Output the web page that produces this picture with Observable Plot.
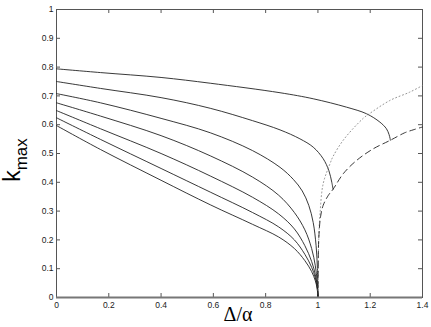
<!DOCTYPE html>
<html>
<head>
<meta charset="utf-8">
<script src="https://cdn.jsdelivr.net/npm/d3@7"></script>
<script src="https://cdn.jsdelivr.net/npm/@observablehq/plot@0.6"></script>
<style>
  html, body { margin: 0; padding: 0; background: #fff; }
  #chart { width: 431px; height: 327px; }
</style>
</head>
<body>
<div id="chart"></div>
<script>
// Tick values
const xTicks = [0, 0.2, 0.4, 0.6, 0.8, 1, 1.2, 1.4];
const yTicks = [0, 0.1, 0.2, 0.3, 0.4, 0.5, 0.6, 0.7, 0.8, 0.9, 1];

// Solid curves, [Δ/α, k_max]
const curve1 = [[0,0.794],[0.168,0.781],[0.4,0.764],[0.588,0.744],[0.855,0.711],[0.982,0.690],[1.109,0.661],[1.186,0.638],[1.237,0.609],[1.262,0.586],[1.272,0.566],[1.276,0.552],[1.277,0.546]];
const curve2 = [[0,0.75],[0.168,0.726],[0.4,0.694],[0.588,0.657],[0.75,0.614],[0.855,0.582],[0.931,0.551],[0.982,0.522],[1.02,0.482],[1.042,0.44],[1.053,0.40],[1.058,0.376]];
const curve3 = [[0,0.708],[0.168,0.676],[0.4,0.622],[0.588,0.572],[0.75,0.51],[0.855,0.452],[0.906,0.41],[0.94,0.37],[0.965,0.32],[0.982,0.26],[0.993,0.18],[0.998,0.1],[1,0.0]];
const curve4 = [[0,0.676],[0.168,0.630],[0.4,0.562],[0.588,0.492],[0.75,0.418],[0.85,0.355],[0.91,0.295],[0.95,0.235],[0.976,0.17],[0.99,0.11],[0.997,0.058],[1,0.0]];
const curve5 = [[0,0.649],[0.168,0.586],[0.4,0.50],[0.588,0.422],[0.75,0.348],[0.85,0.29],[0.91,0.238],[0.95,0.18],[0.976,0.125],[0.99,0.08],[0.997,0.043],[1,0.0]];
const curve6 = [[0,0.624],[0.168,0.549],[0.4,0.448],[0.588,0.366],[0.75,0.295],[0.85,0.245],[0.91,0.2],[0.95,0.15],[0.976,0.105],[0.99,0.068],[0.997,0.036],[1,0.0]];
const curve7 = [[0,0.597],[0.168,0.514],[0.4,0.407],[0.588,0.322],[0.75,0.254],[0.85,0.21],[0.91,0.17],[0.95,0.128],[0.976,0.09],[0.99,0.058],[0.997,0.031],[1,0.0]];

// Dotted and dashed branches
const dottedCurve = [[1.0,0.0],[1.001,0.1],[1.003,0.2],[1.008,0.29],[1.02,0.395],[1.046,0.464],[1.058,0.49],[1.1,0.55],[1.173,0.622],[1.192,0.635],[1.275,0.684],[1.351,0.713],[1.4,0.736]];
const dashedCurve = [[1.0,0.0],[1.001,0.1],[1.003,0.2],[1.01,0.28],[1.02,0.32],[1.04,0.355],[1.058,0.376],[1.097,0.43],[1.148,0.476],[1.211,0.516],[1.277,0.546],[1.332,0.572],[1.364,0.582],[1.4,0.592]];

const solidCurves = [curve1, curve2, curve3, curve4, curve5, curve6, curve7];
const fmt = d => String(+d.toFixed(1));

const W = 431, H = 327, ML = 56, MR = 9, MT = 9, MB = 30, TICK = 4;
const innerW = W - ML - MR, innerH = H - MT - MB;

const lineOpts = {x: d => d[0], y: d => d[1], curve: "catmull-rom", stroke: "#222", strokeWidth: 0.9};
const tickStyle = {stroke: "#555", strokeWidth: 1};

const plot = Plot.plot({
  width: W,
  height: H,
  marginLeft: ML,
  marginRight: MR,
  marginTop: MT,
  marginBottom: MB,
  style: {fontFamily: "'Liberation Sans', Arial, sans-serif", fontSize: "8.5px", color: "#222", background: "#fff"},
  x: {domain: [0, 1.4]},
  y: {domain: [0, 1]},
  marks: [
    // bottom / left tick labels
    Plot.axisX(xTicks, {anchor: "bottom", tickSize: 0, tickPadding: 4, tickFormat: fmt, label: null}),
    Plot.axisY(yTicks, {anchor: "left", tickSize: 0, tickPadding: 3, tickFormat: fmt, label: null}),
    // inward tick marks on all four sides
    Plot.ruleX(xTicks, {x: d => d, insetTop: innerH - TICK, ...tickStyle}),
    Plot.ruleX(xTicks, {x: d => d, insetBottom: innerH - TICK, ...tickStyle}),
    Plot.ruleY(yTicks, {y: d => d, insetRight: innerW - TICK, ...tickStyle}),
    Plot.ruleY(yTicks, {y: d => d, insetLeft: innerW - TICK, ...tickStyle}),
    Plot.frame({stroke: "#555", strokeWidth: 1}),
    ...solidCurves.map(c => Plot.line(c, lineOpts)),
    Plot.line(dottedCurve, {...lineOpts, stroke: "#777", strokeWidth: 0.8, strokeDasharray: "1,2.6"}),
    Plot.line(dashedCurve, {...lineOpts, strokeDasharray: "6,4"}),
    Plot.ruleY([0], {stroke: "#777", strokeWidth: 2})
  ]
});

const svg = d3.select(plot);
svg.append("text")
  .attr("x", 238).attr("y", 321)
  .attr("text-anchor", "middle")
  .style("font-family", "'Liberation Serif', 'DejaVu Serif', serif")
  .style("font-size", "20px")
  .attr("fill", "#000")
  .text("Δ/α");

const yl = svg.append("text")
  .attr("transform", "translate(20,160) rotate(-90)")
  .style("font-family", "'Liberation Sans', Arial, sans-serif")
  .attr("fill", "#000");
yl.append("tspan").style("font-size", "23px").text("k");
yl.append("tspan").attr("dy", 7).style("font-size", "17px").text("max");

document.getElementById("chart").appendChild(plot);
</script>
</body>
</html>
